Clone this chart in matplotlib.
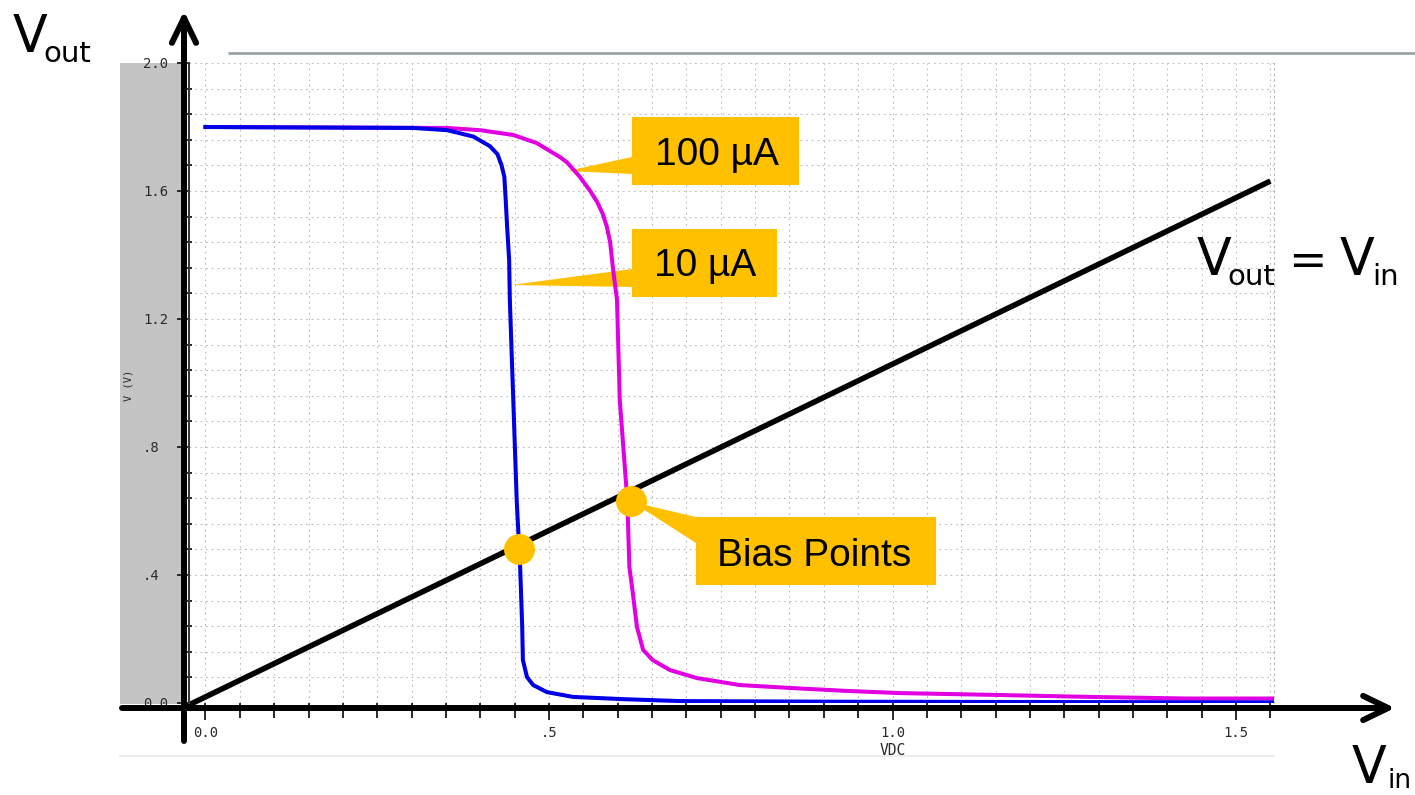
import matplotlib
matplotlib.use("Agg")
import matplotlib.pyplot as plt
from matplotlib import transforms as mtransforms
from matplotlib.patches import Rectangle, Polygon, FancyArrowPatch
from matplotlib.ticker import MultipleLocator

# ---------------- data (volts) ----------------
vin_10uA = [0.0, 0.302, 0.352, 0.390, 0.414, 0.425, 0.431, 0.435, 0.437, 0.439,
            0.442, 0.443, 0.448, 0.453, 0.458, 0.461, 0.462, 0.468, 0.477, 0.497,
            0.535, 0.608, 0.691, 0.928, 1.555]
vout_10uA = [1.80, 1.797, 1.79, 1.77, 1.74, 1.715, 1.68, 1.644, 1.572, 1.49,
             1.384, 1.26, 0.947, 0.634, 0.425, 0.238, 0.134, 0.081, 0.056, 0.034,
             0.019, 0.012, 0.006, 0.004, 0.002]

vin_100uA = [0.0, 0.352, 0.400, 0.448, 0.482, 0.516, 0.526, 0.545, 0.560, 0.570,
             0.578, 0.584, 0.589, 0.593, 0.599, 0.603, 0.614, 0.617, 0.622, 0.628,
             0.637, 0.651, 0.676, 0.715, 0.778, 0.851, 0.931, 1.011, 1.156, 1.287,
             1.429, 1.555]
vout_100uA = [1.80, 1.797, 1.79, 1.775, 1.75, 1.706, 1.69, 1.644, 1.60, 1.566,
              1.53, 1.49, 1.44, 1.36, 1.26, 0.947, 0.634, 0.425, 0.344, 0.238,
              0.166, 0.134, 0.103, 0.078, 0.056, 0.047, 0.038, 0.031, 0.025, 0.019,
              0.014, 0.014]

diag_vin = [-0.027, 1.550]
diag_vout = [-0.009, 1.631]

bias_vin = [0.456, 0.619]
bias_vout = [0.481, 0.631]

xtick_vals = [0.0, 0.5, 1.0, 1.5]
xtick_labels = ["0.0", ".5", "1.0", "1.5"]
ytick_vals = [0.0, 0.4, 0.8, 1.2, 1.6, 2.0]
ytick_labels = ["0.0", ".4", ".8", "1.2", "1.6", "2.0"]

callout_labels = ["100 µA", "10 µA", "Bias Points"]

# ---------------- figure ----------------
W, H = 1415, 795
plt.rcParams["font.family"] = ["DejaVu Sans Mono"]
fig = plt.figure(figsize=(W / 100, H / 100), dpi=100)
fig.patch.set_facecolor("white")

ax = fig.add_axes([189 / W, (H - 703) / H, (1273.8 - 189) / W, 640 / H])
ax.set_facecolor("none")
ax.set_xlim(-0.024, 1.555)
ax.set_ylim(0, 2.0)
ax.set_axisbelow(True)

# pixel (from top-left) transform for slide decorations
T = mtransforms.Affine2D().scale(1 / W, -1 / H).translate(0, 1) + fig.transFigure

# ticks
ax.set_xticks(xtick_vals)
ax.set_xticklabels(xtick_labels)
ax.xaxis.set_minor_locator(MultipleLocator(0.05))
ax.set_yticks(ytick_vals)
ax.set_yticklabels(ytick_labels)
ax.yaxis.set_minor_locator(MultipleLocator(0.08))

tc = "#2a2a2a"
ax.tick_params(axis="x", which="major", length=12.2, width=1.4, color=tc,
               labelsize=10, labelcolor=tc, pad=4.5)
ax.tick_params(axis="x", which="minor", length=10.8, width=1.4, color=tc)
ax.tick_params(axis="y", which="major", length=8.6, width=1.4, color=tc,
               labelsize=10, labelcolor=tc, pad=24.5)
ax.tick_params(axis="y", which="minor", direction="inout", length=4.5,
               width=1.4, color=tc)
for lbl in ax.get_yticklabels():
    lbl.set_horizontalalignment("left")

ax.grid(which="both", color="#BBBBBB", linestyle=(0, (1.5, 3.5)), linewidth=0.8)

ax.spines["top"].set_visible(False)
ax.spines["bottom"].set_visible(False)
ax.spines["right"].set_linestyle((0, (1.5, 3.5)))
ax.spines["right"].set_color("#BBBBBB")
ax.spines["right"].set_linewidth(0.8)
ax.spines["left"].set_color("#3a3a3a")
ax.spines["left"].set_linewidth(1.5)

ax.set_xlabel("VDC", fontsize=10.5, color=tc)
ax.xaxis.set_label_coords(0.649, -0.0625)
ax.set_ylabel("V (V)", fontsize=7.5, color=tc)
ax.yaxis.set_label_coords(-0.051, 0.497)

# ---------------- slide background pieces ----------------
ax.add_patch(Rectangle((120, 63), 64, 641, transform=T, facecolor="#C4C4C4",
                       edgecolor="none", zorder=0.1, clip_on=False))
ax.plot([228, 1415], [53, 53], transform=T, color="#9CA3A8", lw=2.0,
        solid_capstyle="butt", clip_on=False, zorder=0.2)
ax.plot([120, 1274], [756, 756], transform=T, color="#EDEDED", lw=1.5,
        clip_on=False, zorder=0.2)

# ---------------- callouts ----------------
gold = "#FFC000"
boxes = [(632, 117, 167, 68), (632, 229, 145, 68), (696, 517, 240, 68)]
pointers = [[(567, 171), (632, 157), (632, 174)],
            [(511, 285), (632, 269), (632, 287)],
            [(632, 502), (696, 517), (696, 543)]]
text_pos = [(716.5, 165), (705, 276.5), (814.5, 566)]
for (bx, by, bw, bh), tri, (tx, ty), lab in zip(boxes, pointers, text_pos, callout_labels):
    ax.add_patch(Rectangle((bx, by), bw, bh, transform=T, facecolor=gold,
                           edgecolor="none", zorder=1, clip_on=False))
    ax.add_patch(Polygon(tri, closed=True, transform=T, facecolor=gold,
                         edgecolor="none", zorder=1, clip_on=False))
    ax.text(tx, ty, lab, transform=T, ha="center", va="baseline",
            fontsize=28, family=["Liberation Sans", "DejaVu Sans"],
            color="black", zorder=4)

# ---------------- curves ----------------
ax.plot(vin_100uA, vout_100uA, color="#E100E1", lw=2.9, zorder=2)
ax.plot(vin_10uA, vout_10uA, color="#0000E6", lw=2.9, zorder=2.1)
ax.plot(diag_vin, diag_vout, color="black", lw=4.0, solid_capstyle="butt",
        zorder=2.5, clip_on=False)
ax.plot(bias_vin, bias_vout, linestyle="none", marker="o", markersize=22.3,
        markerfacecolor=gold, markeredgewidth=0, zorder=3, clip_on=False)

# ---------------- axis arrows ----------------
for pa, pb in [((184, 741), (184, 11)), ((122, 708), (1395, 708))]:
    arr = FancyArrowPatch(pa, pb, transform=T,
                          arrowstyle="->,head_length=18,head_width=8.7",
                          mutation_scale=1, lw=4.3, color="black",
                          shrinkA=0, shrinkB=0, joinstyle="round",
                          capstyle="round", zorder=5, clip_on=False)
    ax.add_patch(arr)

# ---------------- big labels ----------------
big = dict(transform=T, family=["DejaVu Sans"], color="black", va="baseline",
           ha="left", zorder=6)
ax.text(13, 52, "V", fontsize=36.5, **big)
ax.text(43, 62, "out", fontsize=21, **big)

ax.text(1197, 275, "V", fontsize=36.5, **big)
ax.text(1227, 285, "out", fontsize=21, **big)
ax.text(1288, 275, "=", fontsize=33, **big)
ax.text(1340, 275, "V", fontsize=36.5, **big)
ax.text(1372, 285, "in", fontsize=21, **big)

ax.text(1352, 783, "V", fontsize=36.5, **big)
ax.text(1387, 788, "in", fontsize=19, **big)

fig.savefig("out.png", dpi=100, facecolor="white")
